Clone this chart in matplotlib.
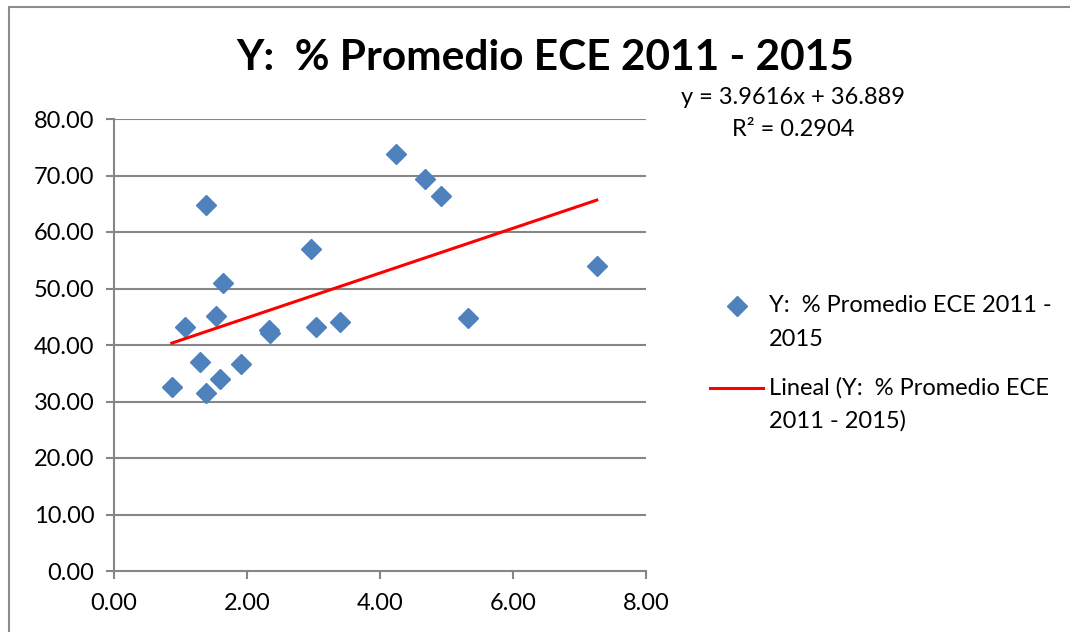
import numpy as np
import matplotlib
matplotlib.use("Agg")
import matplotlib.pyplot as plt
from matplotlib.patches import Rectangle
from matplotlib.lines import Line2D

plt.rcParams['font.family'] = ['Lato', 'DejaVu Sans']

# values
x_vals = [0.87, 1.07, 1.29, 1.38, 1.38, 1.53, 1.59, 1.64, 1.91, 2.33, 2.35,
          2.96, 3.04, 3.40, 4.24, 4.68, 4.92, 5.32, 7.26]
y_vals = [32.6, 43.2, 37.0, 64.8, 31.5, 45.1, 34.0, 51.0, 36.6, 42.7, 42.1,
          57.0, 43.2, 44.1, 73.8, 69.4, 66.4, 44.8, 54.0]

# trend line as printed on the chart
slope = 3.9616
intercept = 36.889
r2 = 0.2904

title = "Y:  % Promedio ECE 2011 - 2015"
series_label = ["Y:  % Promedio ECE 2011 -", "2015"]
trend_label = ["Lineal (Y:  % Promedio ECE", "2011 - 2015)"]
x_ticks = [0, 2, 4, 6, 8]
y_ticks = [0, 10, 20, 30, 40, 50, 60, 70, 80]

W, H = 1070, 632
def fx(px):
    return px / W
def fy(py):
    return 1 - py / H

blue = '#4F81BD'
red = '#FF0000'
grid_col = '#868686'

fig = plt.figure(figsize=(10.7, 6.32), dpi=100)
# chart area border
fig.patches.append(Rectangle((fx(9), -0.01), 1.1, fy(7) + 0.01,
                             transform=fig.transFigure, fill=False,
                             edgecolor='#8c8c8c', linewidth=1.5))

ax = fig.add_axes([fx(114), fy(571), 532 / W, 452 / H])

for yv in y_ticks[1:]:
    ax.axhline(yv, color=grid_col, linewidth=1.5, zorder=1)

ax.plot(x_vals, y_vals, linestyle='none', marker='D', markersize=10.5,
        color=blue, zorder=3)

xs = np.array([min(x_vals), max(x_vals)])
ax.plot(xs, slope * xs + intercept, color=red, linewidth=2.2, zorder=4)

ax.set_xlim(0, 8)
ax.set_ylim(0, 80)
ax.set_xticks(x_ticks)
ax.set_yticks(y_ticks)
ax.set_xticklabels([f"{v:.2f}" for v in x_ticks])
ax.set_yticklabels([f"{v:.2f}" for v in y_ticks])
ax.tick_params(direction='out', length=6, width=1.5, color=grid_col,
               labelsize=17)
ax.tick_params(axis='x', pad=10)
ax.tick_params(axis='y', pad=8)

for s in ['top', 'right']:
    ax.spines[s].set_visible(False)
for s in ['left', 'bottom']:
    ax.spines[s].set_color(grid_col)
    ax.spines[s].set_linewidth(1.5)

fig.text(fx(545), fy(58), title, ha='center', va='center',
         fontsize=30.5, fontweight='bold')

fig.text(fx(793), fy(98), f"y = {slope}x + {intercept}",
         ha='center', va='center', fontsize=17)
fig.text(fx(793), fy(130), f"R² = {r2}",
         ha='center', va='center', fontsize=17)

# legend, Excel style: handle next to the first line of each wrapped label
fig.add_artist(Line2D([fx(737)], [fy(306)], marker='D', markersize=10.5,
                      color=blue, linestyle='none'))
fig.add_artist(Line2D([fx(710), fx(763)], [fy(388), fy(388)],
                      color=red, linewidth=2.2))
for i, line in enumerate(series_label):
    fig.text(fx(769), fy(306 + 34 * i), line, ha='left', va='center',
             fontsize=17)
for i, line in enumerate(trend_label):
    fig.text(fx(769), fy(388 + 33 * i), line, ha='left', va='center',
             fontsize=17)

fig.savefig("out.png", dpi=100)
